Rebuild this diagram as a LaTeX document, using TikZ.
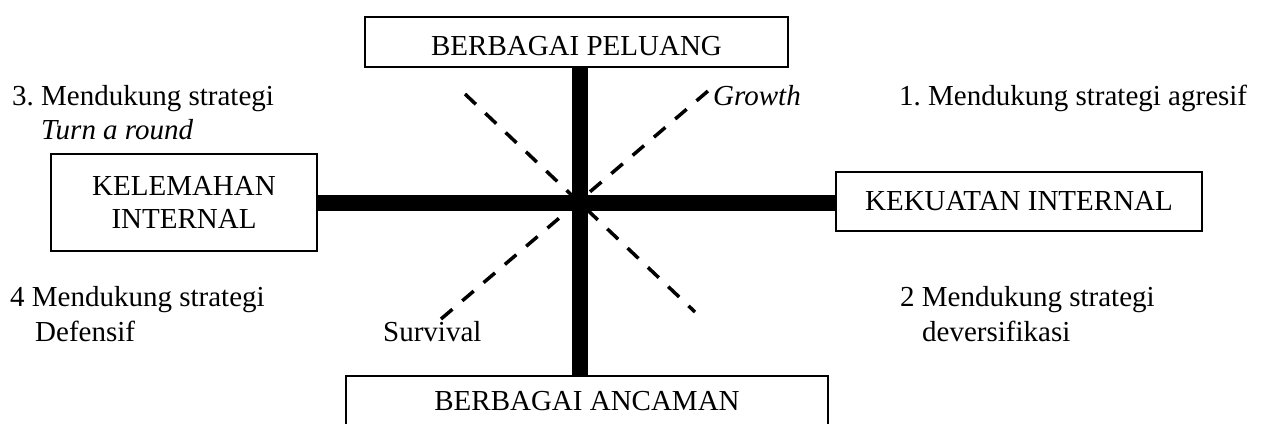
\documentclass[tikz,border=0pt]{standalone}
\usepackage{fontspec}
\setmainfont{Liberation Serif}
\begin{document}
\frenchspacing
\begin{tikzpicture}[x=1pt,y=-1pt,
  every node/.style={font=\fontsize{29}{33}\selectfont, inner sep=0pt},
  box/.style={draw, line width=1.8pt, rectangle, align=center},
  bar/.style={line width=15.5pt},
  diag/.style={line width=3.5pt, dash pattern=on 15pt off 13pt},
  lbl/.style={anchor=base west}]
\useasboundingbox (0,0) rectangle (1263,423);
\clip (0,0) rectangle (1263,423);
% boxes
\node[box, minimum width=423pt, minimum height=50pt, text height=26pt, text depth=0pt] (peluang) at (576.5,42) {BERBAGAI PELUANG};
\node[box, minimum width=366pt, minimum height=59pt, text height=17pt, text depth=0pt] (kekuatan) at (1019,201.5) {KEKUATAN INTERNAL};
\node[box, minimum width=266pt, minimum height=97pt] (kelemahan) at (184,202.5) {KELEMAHAN\\INTERNAL};
\node[box, minimum width=482pt, minimum height=60pt, text height=8pt, text depth=0pt] (ancaman) at (587,406) {BERBAGAI ANCAMAN};
% centre
\coordinate (c) at (580,203);
% bars
\draw[bar] (c |- peluang.south) -- (c |- ancaman.north);
\draw[bar] (kelemahan.east |- c) -- (kekuatan.west |- c);
% diagonals
\coordinate (nw) at (465,94);
\coordinate (se) at (695,312);
\coordinate (sw) at (441,319);
\coordinate (ne) at (708,91);
\draw[diag] (nw) -- (se);
\draw[diag] (sw) -- (ne);
% labels
\node[lbl] (l3a) at (12,105) {3. Mendukung strategi};
\node[lbl] (l3b) at (41,139) {\itshape Turn a round};
\node[lbl] (lg) at (713,105) {\itshape Growth};
\node[lbl] (l1) at (899,105) {1. Mendukung strategi agresif};
\node[lbl] (l4a) at (10,306) {4 Mendukung strategi};
\node[lbl] (l4b) at (35,341) {Defensif};
\node[lbl] (ls) at (383,341) {Survival};
\node[lbl] (l2a) at (900,306) {2 Mendukung strategi};
\node[lbl] (l2b) at (922,341) {deversifikasi};
\end{tikzpicture}
\end{document}
